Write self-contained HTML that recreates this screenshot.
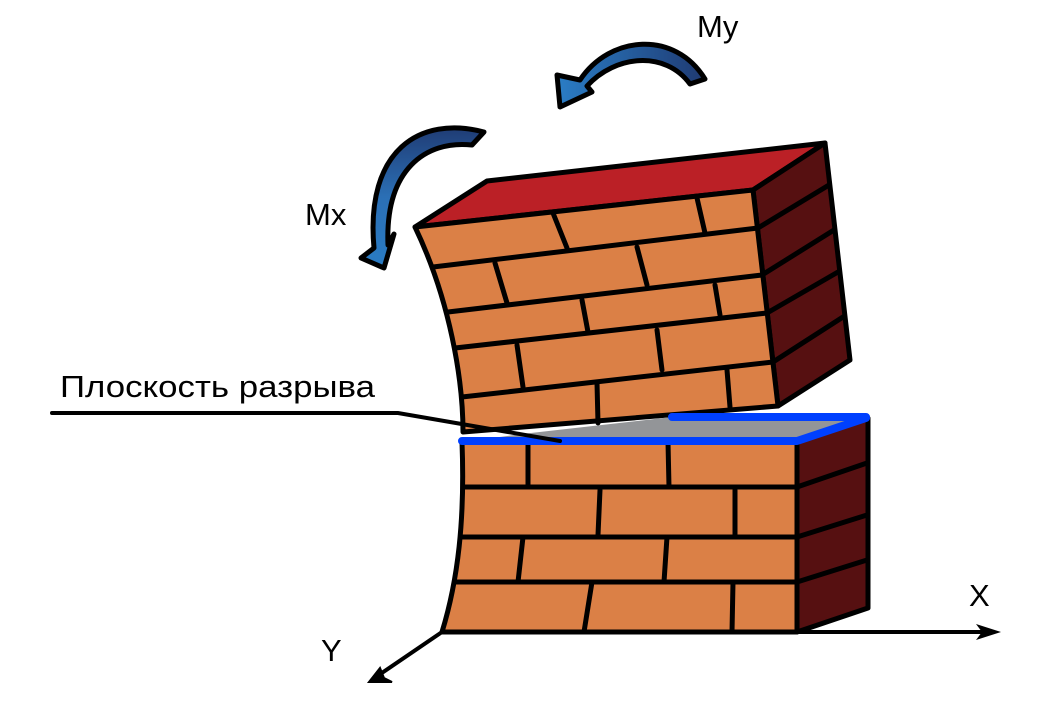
<!DOCTYPE html>
<html><head><meta charset="utf-8"><style>html,body{margin:0;padding:0;background:#fff}svg{display:block}</style></head>
<body>
<svg width="1058" height="722" viewBox="0 0 1058 722" xmlns="http://www.w3.org/2000/svg" font-family="Liberation Sans, sans-serif">
<defs>
<linearGradient id="gy" x1="560" y1="0" x2="705" y2="0" gradientUnits="userSpaceOnUse"><stop offset="0" stop-color="#2a7cc4"/><stop offset="1" stop-color="#1f3a72"/></linearGradient>
<linearGradient id="gx" x1="0" y1="268" x2="0" y2="125" gradientUnits="userSpaceOnUse"><stop offset="0" stop-color="#2a7cc4"/><stop offset="0.5" stop-color="#2b6fb5"/><stop offset="1" stop-color="#1f3a72"/></linearGradient>
</defs>
<g stroke="#000" stroke-width="5" stroke-linejoin="round" stroke-linecap="round">
<!-- upper block -->
<polygon points="415,227 487,181 825,143 753,190" fill="#bb2026"/>
<polygon points="753,190 825,143 850,360 778,406" fill="#561011"/>
<path d="M415,227 L753,190 L778,406 L463,432 C463,380 450,300 415,227 Z" fill="#db8046"/>
<g fill="none">
<path d="M433,267 L758,228 M448,312 L762,275 M455,348 L767,313 M462,397 L773,362"/>
<path d="M758,228 L829,185 M762,275 L834,230 M767,313 L838,272 M773,362 L843,317"/>
<path d="M553,213 L567,248 M697,198 L705,233 M495,263 L507,303 M637,247 L647,285 M582,300 L588,332 M715,285 L720,315 M517,345 L523,387 M657,330 L662,370 M597,383 L598,423 M727,370 L730,407"/>
</g>
<!-- lower block -->
<polygon points="797,442 868,418 868,608 797,632" fill="#561011"/>
<path d="M462,442 L797,442 L797,632 L442,632 C458,580 465,520 462,442 Z" fill="#db8046"/>
<polygon points="522,434 672,417 868,417 797,442 462,442" fill="#939598" stroke="none"/>
<g fill="none">
<path d="M463,487 L797,487 M461,537 L797,537 M455,582 L797,582"/>
<path d="M797,487 L867,463 M797,537 L867,515 M797,582 L867,560"/>
<path d="M528,442 L528,487 M668,442 L669,487 M600,490 L598,535 M735,490 L735,535 M523,537 L518,582 M667,537 L664,582 M592,582 L584,632 M733,582 L732,632"/>
</g>
</g>
<!-- blue edges -->
<path d="M462,441 L797,441 L866,418 M672,417 L866,417" fill="none" stroke="#0040ff" stroke-width="8" stroke-linecap="round" stroke-linejoin="round"/>
<!-- leader line -->
<path d="M52,413 L398,413 L560,441" fill="none" stroke="#000" stroke-width="4" stroke-linecap="round"/>
<text x="60" y="397" font-size="31" textLength="315" lengthAdjust="spacingAndGlyphs">Плоскость разрыва</text>
<!-- axes -->
<path d="M442,632 L992,632 M442,632 L376,677" fill="none" stroke="#000" stroke-width="4"/>
<polygon points="1001,632 976,624 982,632 976,640" fill="#000"/>
<polygon points="369,682 380,668 384,678 392,682" fill="#000" stroke="#000" stroke-width="2"/>
<text x="969" y="606" font-size="31">X</text>
<text x="321" y="661" font-size="31">Y</text>
<!-- moments -->
<path d="M705,79 C675,30 610,35 580,80 L557,75 L560,107 L592,92 L587,86 C615,55 665,50 690,84 Z" fill="url(#gy)" stroke="#000" stroke-width="5" stroke-linejoin="round"/>
<path d="M484,132 C420,115 365,150 374,248 L361,258 L384,268 L394,234 L388,245 C385,170 425,140 472,145 Z" fill="url(#gx)" stroke="#000" stroke-width="5" stroke-linejoin="round"/>
<text x="697" y="37" font-size="31">My</text>
<text x="305" y="225" font-size="31">Mx</text>
</svg>
</body></html>
